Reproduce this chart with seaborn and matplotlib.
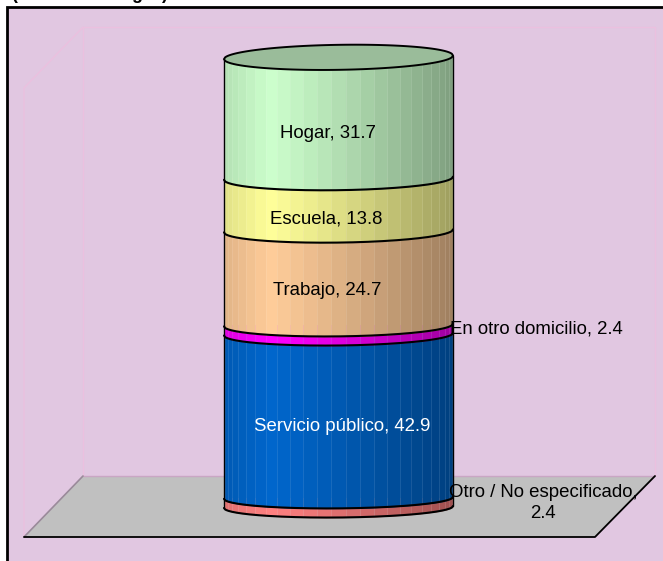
#stacked cylinder chart
from matplotlib import pyplot as plt
from matplotlib.colors import to_rgb
from matplotlib.patches import Polygon, Rectangle
from matplotlib.transforms import Affine2D
import numpy as np
import seaborn as sns

#data, from bottom to top of the stack
categorias = ['Otro / No especificado', 'Servicio público', 'En otro domicilio', 'Trabajo', 'Escuela', 'Hogar']
valores = [2.4, 42.9, 2.4, 24.7, 13.8, 31.7]
colores = ['#FF8080', '#0066CC', '#FF00FF', '#FFCC99', '#FFFF99', '#CCFFCC']

W, H = 663, 561
fondo = '#E1C7E1'
rosa = '#EBC0DF'
px_y0 = 507.0   #pixel row of value 0
px_por_unidad = 3.814
ancho_px = 229.0
izq_px = 224.0

sns.set_theme(style='white')
plt.rcParams['font.family'] = ['Liberation Sans', 'DejaVu Sans']

fig = plt.figure(figsize=(W / 100, H / 100), dpi=100, facecolor='white')
ax = fig.add_axes([0, 0, 1, 1])
px = Affine2D().scale(1 / W, -1 / H).translate(0, 1) + fig.transFigure

#background, wall and floor
ax.add_patch(Rectangle((7, 7), W, H, transform=px, fc=fondo, ec='black', lw=2, zorder=0))
ax.plot([83, 655, 655], [27, 27, 476], transform=px, color=rosa, lw=1, zorder=1)
ax.plot([83, 83], [27, 476], transform=px, color=rosa, lw=1, zorder=1)
ax.plot([24, 24, 83], [537, 88, 27], transform=px, color=rosa, lw=1, zorder=1)
ax.add_patch(Polygon([(83, 476), (655, 476), (595, 537), (24, 537)], transform=px, fc='#C0C0C0', ec='none', zorder=1))
ax.plot([83, 655], [476, 476], transform=px, color='#C9A6C4', lw=1, zorder=1)
ax.plot([83, 24], [476, 537], transform=px, color='#9A8A9A', lw=1.2, zorder=1)
ax.plot([24, 595, 655], [537, 537, 476], transform=px, color='black', lw=1.3, zorder=1)

#the stack itself
base = 0
for v, c in zip(valores, colores):
    sns.barplot(x=[0], y=[v], bottom=base, color=c, width=1, saturation=1, linewidth=0, ax=ax, zorder=2)
    base += v
total = sum(valores)

ax.set_xlim(-0.5 - izq_px / ancho_px, -0.5 + (W - izq_px) / ancho_px)
ax.set_ylim(-(H - px_y0) / px_por_unidad, px_y0 / px_por_unidad)
ax.set_axis_off()


def radio(y):
    #ellipse gets a bit taller towards the top of the stack
    return (10.5 + 2.0 * y / total) / px_por_unidad


def inclina(y):
    return (1.0 + 0.8 * y / total) / px_por_unidad


def frente(x, y):
    #front edge of the cylinder at height y
    u = np.clip(x * 2, -1, 1)
    return y + u * inclina(y) - radio(y) * np.sqrt(1 - u ** 2)


def detras(x, y):
    u = np.clip(x * 2, -1, 1)
    return y + u * inclina(y) + radio(y) * np.sqrt(1 - u ** 2)


def sombra(u):
    #brightness across the cylinder, brightest a bit left of centre
    if u < 0.2:
        return 0.88 + 0.12 * u / 0.2
    return 1.0 - 0.38 * ((u - 0.2) / 0.8) ** 1.1


#facets are evenly spaced in angle, so they get narrow at the edges
angulos = np.linspace(-np.pi / 2, np.pi / 2, 26)
bordes = np.sin(angulos) / 2

base = 0
for v, c in zip(valores, colores):
    rgb = np.array(to_rgb(c))
    for a, b in zip(bordes[:-1], bordes[1:]):
        xs = np.linspace(a, b, 8)
        f = sombra((a + b) / 2 + 0.5)
        ax.fill_between(xs, frente(xs, base), frente(xs, base + v), color=rgb * f, lw=0.3, zorder=3)
    for a in bordes[1:-1]:
        ax.plot([a, a], [frente(a, base), frente(a, base + v)], color='white', alpha=0.1, lw=0.7, zorder=4)
    base += v

#outlines and top face
xs = np.linspace(-0.5, 0.5, 200)
tapa = np.concatenate([frente(xs, total), detras(xs[::-1], total)])
ax.add_patch(Polygon(np.column_stack([np.concatenate([xs, xs[::-1]]), tapa]), fc='#9ABC9A', ec='black', lw=1.4, zorder=6))
base = 0
for v in [0] + valores[:-1]:
    base += v
    ax.plot(xs, frente(xs, base), color='black', lw=1.5, zorder=5)
for x in (-0.5, 0.5):
    ax.plot([x, x], [frente(x, 0), frente(x, total)], color='black', lw=1.0, zorder=5)

#labels
fs = 13.4
ax.text(328, 133, 'Hogar, 31.7', transform=px, ha='center', va='center', fontsize=fs, color='black', zorder=7)
ax.text(326, 219, 'Escuela, 13.8', transform=px, ha='center', va='center', fontsize=fs, color='black', zorder=7)
ax.text(327, 291, 'Trabajo, 24.7', transform=px, ha='center', va='center', fontsize=fs, color='black', zorder=7)
ax.text(342, 427, 'Servicio público, 42.9', transform=px, ha='center', va='center', fontsize=fs, color='white', zorder=7)
ax.text(536, 329, 'En otro domicilio, 2.4', transform=px, ha='center', va='center', fontsize=fs, color='black', zorder=7)
ax.text(543, 503, 'Otro / No especificado,\n2.4', transform=px, ha='center', va='center', fontsize=fs, color='black', linespacing=1.35, zorder=7)

#only the bottom of the title line shows above the frame
for x, t in [(14, '('), (137, 'g'), (164, ')')]:
    ax.text(x, -1, t, transform=px, ha='center', va='baseline', fontsize=13, fontweight='bold', color='black', clip_on=False)

fig.savefig('out.png', dpi=100)
